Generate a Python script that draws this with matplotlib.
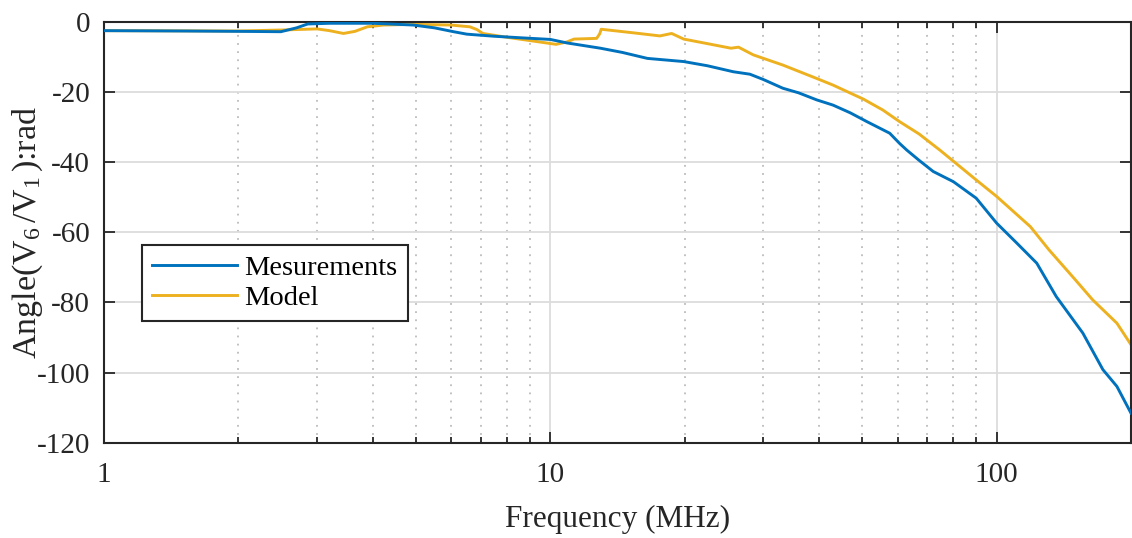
import numpy as np
import matplotlib
matplotlib.use("Agg")
import matplotlib.pyplot as plt
from matplotlib.ticker import LogLocator, FixedLocator, NullFormatter

plt.rcParams['font.family'] = ['Liberation Serif', 'DejaVu Serif']
plt.rcParams['mathtext.fontset'] = 'custom'
plt.rcParams['mathtext.rm'] = 'Liberation Serif'
plt.rcParams['mathtext.it'] = 'Liberation Serif:italic'

f_meas = [1.0, 1.5, 2.0, 2.49, 2.7, 2.86, 3.2, 4.0, 4.93, 5.5, 6.07, 6.5, 7.5, 8.5,
          10.0, 10.9, 12.95, 14.5, 16.5, 19.9, 22.5, 25.7, 28.0, 30.0, 33.2, 36.0,
          39.5, 43.0, 47.0, 51.2, 57.6, 60.6, 62.9, 67.0, 72.1, 80.0, 90.0, 100.0,
          111.0, 123.0, 136.0, 156.0, 173.0, 186.0, 200.0]
v_meas = [-2.6, -2.7, -2.8, -2.9, -1.8, -0.7, -0.5, -0.5, -1.0, -1.8, -2.9, -3.6, -4.2, -4.6,
          -5.1, -6.1, -7.6, -8.8, -10.5, -11.4, -12.6, -14.3, -15.0, -16.5, -19.0, -20.3,
          -22.3, -23.8, -26.0, -28.5, -31.8, -34.7, -36.6, -39.5, -42.7, -45.6, -50.3, -57.4,
          -63.1, -68.8, -78.3, -88.7, -99.1, -103.9, -111.5]

# model phase
f_model = [1.0, 2.0, 2.53, 3.0, 3.2, 3.44, 3.65, 3.89, 4.23, 4.93, 5.98, 6.6, 6.85, 7.06,
           8.0, 9.2, 10.3, 10.9, 11.3, 12.7, 12.9, 13.0, 15.3, 17.6, 18.7, 19.9, 22.5,
           25.4, 26.4, 28.5, 33.2, 39.5, 43.0, 50.3, 55.6, 60.6, 67.0, 74.6, 90.0, 100.0,
           119.0, 131.0, 150.0, 164.0, 186.0, 200.0]
v_model = [-2.6, -2.7, -2.4, -2.1, -2.6, -3.4, -2.8, -1.5, -1.0, -0.8, -1.0, -1.5, -2.3, -3.4,
           -4.5, -5.6, -6.5, -5.8, -5.0, -4.8, -3.5, -2.2, -3.2, -4.1, -3.4, -5.0, -6.3,
           -7.6, -7.3, -9.5, -12.4, -16.2, -18.1, -22.1, -25.2, -28.5, -32.0, -36.6, -45.1, -49.8,
           -58.4, -65.0, -73.5, -79.2, -85.9, -92.0]

yticks = [0, -20, -40, -60, -80, -100, -120]
xticks = [1, 10, 100]

fig = plt.figure(figsize=(11.32, 5.38), dpi=100)
ax = fig.add_axes([0.0919, 0.1766, 0.9072, 0.7834])

ax.semilogx(f_meas, v_meas, color='#0072BD', lw=2.1, label='Mesurements', zorder=3)
ax.semilogx(f_model, v_model, color='#EDB120', lw=2.1, label='Model', zorder=2)

ax.set_xlim(1, 200)
ax.set_ylim(-120, 0)
ax.xaxis.set_major_locator(FixedLocator(xticks))
ax.set_xticklabels([str(t) for t in xticks])
ax.xaxis.set_minor_locator(LogLocator(base=10, subs=np.arange(2, 10), numticks=20))
ax.xaxis.set_minor_formatter(NullFormatter())
ax.set_yticks(yticks)
ax.set_yticklabels([str(t) for t in yticks])

ax.grid(which='major', color='#dcdcdc', lw=1.3, ls='-', zorder=0)
ax.grid(which='minor', axis='x', color='#bcbcbc', lw=1.3, ls=(0, (1, 3.5)), zorder=0)
ax.set_axisbelow(True)

ax.tick_params(which='both', direction='in', top=True, right=True,
               colors='#262626', width=1.3, labelsize=21, labelcolor='#262626')
ax.tick_params(which='major', length=8)
ax.tick_params(which='minor', length=4.5)
ax.tick_params(axis='x', which='major', pad=14)
ax.tick_params(axis='y', which='major', pad=10)
for s in ax.spines.values():
    s.set_color('#262626')
    s.set_linewidth(1.5)

ax.set_xlabel('Frequency (MHz)', fontsize=22.5, color='#262626', labelpad=12)
ax.set_ylabel(r'Angle(V$_{\mathrm{6}}\,$/V$_{\mathrm{1}}\,$):rad', fontsize=24.5,
              color='#262626', labelpad=-6)

leg = ax.legend(loc='upper left', bbox_to_anchor=(0.037, 0.47), fontsize=20.5,
                fancybox=False, framealpha=1, edgecolor='#262626',
                handlelength=3.0, handletextpad=0.25, borderpad=0.35, labelspacing=0.15,
                borderaxespad=0)
leg.get_frame().set_linewidth(1.5)

fig.savefig('out.png', dpi=100)
